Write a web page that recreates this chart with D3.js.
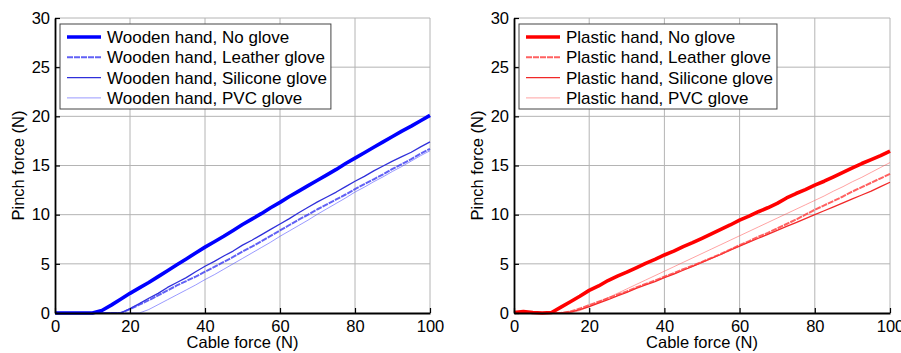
<!DOCTYPE html>
<html>
<head>
<meta charset="utf-8">
<script src="https://cdn.jsdelivr.net/npm/d3@7"></script>
<style>
  html, body { margin: 0; padding: 0; background: #fff; }
  svg { display: block; font-family: "Liberation Sans", Arial, sans-serif; }
</style>
</head>
<body>
<svg id="chart" width="901" height="353"></svg>
<script>
// ---- data ----
const cableForce = d3.range(0, 100.01, 2.5);
const xTicks = [0, 20, 40, 60, 80, 100];
const yTicks = [0, 5, 10, 15, 20, 25, 30];
const xLabel = "Cable force (N)";
const yLabel = "Pinch force (N)";

const woodenNames = ["Wooden hand, No glove", "Wooden hand, Leather glove", "Wooden hand, Silicone glove", "Wooden hand, PVC glove"];
const plasticNames = ["Plastic hand, No glove", "Plastic hand, Leather glove", "Plastic hand, Silicone glove", "Plastic hand, PVC glove"];

const woodenNoGlove = [0,0,0,0,0,0.25,0.8,1.4,2.0,2.55,3.1,3.7,4.3,4.9,5.5,6.1,6.7,7.25,7.8,8.4,9.0,9.55,10.1,10.7,11.25,11.85,12.4,12.95,13.5,14.05,14.6,15.2,15.75,16.3,16.85,17.4,17.95,18.5,19.0,19.55,20.1];
const woodenLeather = [0,0,0,0,0,0,0,0,0.4,0.85,1.3,1.8,2.3,2.8,3.25,3.7,4.2,4.7,5.2,5.7,6.25,6.75,7.3,7.85,8.4,8.95,9.5,10.0,10.55,11.05,11.55,12.05,12.6,13.1,13.6,14.1,14.65,15.15,15.65,16.2,16.7];
const woodenSilicone = [0,0,0,0,0,0,0,0,0.45,0.95,1.5,2.0,2.6,3.1,3.6,4.2,4.75,5.25,5.8,6.3,6.9,7.4,7.95,8.5,9.05,9.6,10.2,10.75,11.3,11.8,12.3,12.85,13.4,13.9,14.45,14.95,15.45,15.9,16.35,16.9,17.4];
const woodenPVC = [0,0,0,0,0,0,0,0,0,0,0.35,0.85,1.35,1.85,2.35,2.85,3.4,3.9,4.45,5.0,5.55,6.1,6.65,7.2,7.8,8.35,8.9,9.45,10.05,10.6,11.15,11.7,12.3,12.8,13.35,13.85,14.4,14.9,15.45,16.0,16.5];

const plasticNoGlove = [0.05,0.15,0.05,0,0.05,0.6,1.15,1.7,2.3,2.75,3.3,3.75,4.15,4.6,5.05,5.45,5.9,6.3,6.75,7.15,7.6,8.05,8.5,8.95,9.45,9.85,10.3,10.7,11.15,11.7,12.15,12.55,13.0,13.4,13.85,14.3,14.75,15.2,15.6,16.0,16.45];
const plasticLeather = [0,0,0,0,0,0,0.15,0.45,0.8,1.15,1.5,1.85,2.2,2.6,2.95,3.3,3.7,4.05,4.45,4.8,5.2,5.6,6.0,6.45,6.9,7.3,7.75,8.15,8.6,9.05,9.5,10.0,10.5,10.95,11.4,11.85,12.35,12.8,13.25,13.7,14.15];
const plasticSilicone = [0,0,0,0,0,0,0.1,0.35,0.65,1.0,1.35,1.75,2.1,2.5,2.85,3.2,3.6,3.95,4.35,4.75,5.15,5.55,5.95,6.4,6.8,7.2,7.6,8.0,8.4,8.8,9.2,9.6,10.0,10.4,10.8,11.2,11.6,12.0,12.4,12.85,13.3];
const plasticPVC = [0,0,0,0,0,0,0,0.25,0.65,1.1,1.55,2.0,2.45,2.9,3.35,3.8,4.25,4.7,5.15,5.6,6.05,6.5,6.95,7.4,7.85,8.3,8.75,9.2,9.65,10.1,10.55,11.0,11.45,11.9,12.4,12.85,13.35,13.8,14.3,14.8,15.3];

// ---- styles ----
const lineStyles = [
  { width: 3.6, dash: null, opacity: 1 },
  { width: 2.0, dash: "6,1", opacity: 0.8 },
  { width: 1.3, dash: null, opacity: 0.95 },
  { width: 0.8, dash: null, opacity: 0.7 }
];
const blueColors = ["#0000ff", "#3a3af2", "#2424d8", "#4a4aff"];
const redColors = ["#ff0000", "#ff3a3a", "#f01c1c", "#ff5a5a"];

const svg = d3.select("#chart");

function drawPanel(x0, x1, names, seriesList, colors) {
  const yTop = 18, yBot = 313;
  const x = d3.scaleLinear().domain([0, 100]).range([x0, x1]);
  const y = d3.scaleLinear().domain([0, 30]).range([yBot, yTop]);
  const g = svg.append("g");

  // background
  g.append("rect").attr("x", x0).attr("y", yTop).attr("width", x1 - x0).attr("height", yBot - yTop).attr("fill", "#fff");

  // grid
  g.append("g").selectAll("line").data(xTicks.filter(d => d > 0)).join("line")
    .attr("x1", d => x(d)).attr("x2", d => x(d)).attr("y1", yTop).attr("y2", yBot)
    .attr("stroke", "#b4b4b4").attr("stroke-width", 1);
  g.append("g").selectAll("line").data(yTicks.filter(d => d > 0)).join("line")
    .attr("x1", x0).attr("x2", x1).attr("y1", d => y(d)).attr("y2", d => y(d))
    .attr("stroke", "#b4b4b4").attr("stroke-width", 1);

  // lines
  const line = d3.line().x((d, i) => x(cableForce[i])).y(d => y(d));
  const order = [3, 2, 1, 0];
  order.forEach(k => {
    const st = lineStyles[k];
    g.append("path").datum(seriesList[k])
      .attr("d", line)
      .attr("fill", "none")
      .attr("stroke", colors[k])
      .attr("stroke-width", st.width)
      .attr("stroke-opacity", st.opacity)
      .attr("stroke-dasharray", st.dash)
      .attr("stroke-linejoin", "round");
  });

  // axes
  const ax = g.append("g").attr("transform", `translate(0,${yBot})`)
    .call(d3.axisBottom(x).tickValues(xTicks).tickSizeInner(-5).tickSizeOuter(0).tickPadding(7));
  const ay = g.append("g").attr("transform", `translate(${x0},0)`)
    .call(d3.axisLeft(y).tickValues(yTicks).tickSizeInner(-5).tickSizeOuter(0).tickPadding(5));
  [ax, ay].forEach(a => {
    a.select(".domain").attr("stroke", "#000").attr("stroke-width", 1.8);
    a.selectAll(".tick line").attr("stroke", "#000").attr("stroke-width", 1.2);
    a.selectAll(".tick text").attr("font-size", "16.5px").attr("fill", "#000")
      .attr("font-family", "Liberation Sans, Arial, sans-serif");
  });

  // axis labels
  g.append("text").attr("x", (x0 + x1) / 2).attr("y", 348).attr("text-anchor", "middle")
    .attr("font-size", "16.5px").attr("fill", "#000").text(xLabel);
  g.append("text").attr("transform", `translate(${x0 - 31},${(yTop + yBot) / 2}) rotate(-90)`)
    .attr("text-anchor", "middle").attr("font-size", "16.5px").attr("fill", "#000").text(yLabel);

  // legend
  const lx = x0 + 5, ly = 24, rowH = 20.3;
  const leg = g.append("g");
  const box = leg.append("rect").attr("x", lx).attr("y", ly).attr("height", 85)
    .attr("fill", "#fff").attr("stroke", "#444").attr("stroke-width", 1);
  let maxW = 0;
  names.forEach((n, k) => {
    const cy = ly + 13 + k * rowH;
    const st = lineStyles[k];
    leg.append("line").attr("x1", lx + 7).attr("x2", lx + 41).attr("y1", cy).attr("y2", cy)
      .attr("stroke", colors[k]).attr("stroke-width", st.width)
      .attr("stroke-opacity", st.opacity).attr("stroke-dasharray", st.dash);
    const t = leg.append("text").attr("x", lx + 47).attr("y", cy).attr("dy", "0.35em")
      .attr("font-size", "17px").attr("fill", "#000").text(n);
    maxW = Math.max(maxW, t.node().getComputedTextLength());
  });
  box.attr("width", 47 + maxW + 4);
}

drawPanel(55, 430, woodenNames, [woodenNoGlove, woodenLeather, woodenSilicone, woodenPVC], blueColors);
drawPanel(514, 890, plasticNames, [plasticNoGlove, plasticLeather, plasticSilicone, plasticPVC], redColors);
</script>
</body>
</html>
